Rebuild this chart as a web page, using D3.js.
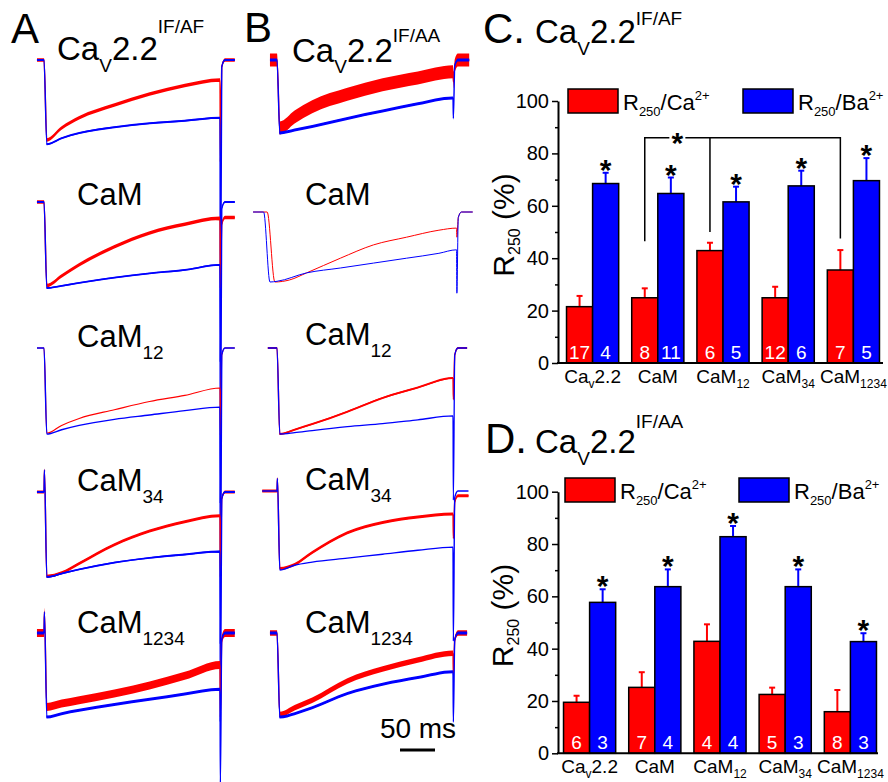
<!DOCTYPE html>
<html>
<head>
<meta charset="utf-8">
<script src="https://cdn.jsdelivr.net/npm/d3@7"></script>
<style>
body { margin: 0; background: #fff; }
svg { display: block; font-family: "Liberation Sans", Arial, sans-serif; }
text { white-space: pre; }
</style>
</head>
<body>
<script>
// ---- bar chart data (C and D) ----
const categories = ["Cav2.2", "CaM", "CaM12", "CaM34", "CaM1234"];
const catLabels = [
    [["Ca", 0], ["v", 1], ["2.2", 0]],
    [["CaM", 0]],
    [["CaM", 0], ["12", 1]],
    [["CaM", 0], ["34", 1]],
    [["CaM", 0], ["1234", 1]]
];
const yTicks = [0, 20, 40, 60, 80, 100];
const yMinor = [10, 30, 50, 70, 90];

const cCa = [21.5, 24.9, 42.9, 24.9, 35.5];
const cCaErr = [4.1, 3.6, 3.0, 4.2, 7.6];
const cBa = [68.5, 64.7, 61.5, 67.6, 69.6];
const cBaErr = [4.1, 6.1, 5.8, 5.8, 8.6];
const cCaN = [17, 8, 6, 12, 7];
const cBaN = [4, 11, 5, 6, 5];
const cBracketCats = ["CaM", "CaM12", "CaM1234"];
const cBracketEnds = [46.5, 50, 47.5];
const cBracketLevel = 86;

const dCa = [19.5, 25.2, 42.8, 22.5, 15.9];
const dCaErr = [2.5, 5.8, 6.5, 2.6, 8.3];
const dBa = [57.7, 63.7, 82.8, 63.7, 42.7];
const dBaErr = [5.0, 6.6, 4.1, 6.6, 3.2];
const dCaN = [6, 7, 4, 5, 8];
const dBaN = [3, 4, 4, 3, 3];

// ---- current traces (A and B), current as fraction of peak, time in ms ----
const traceT = [4, 25, 50, 100, 150, 200, 250];

const aCavRed = [-0.94, -0.80, -0.68, -0.53, -0.40, -0.30, -0.235];
const aCavBlue = [-0.99, -0.92, -0.86, -0.79, -0.745, -0.715, -0.68];
const aCamRed = [-0.97, -0.86, -0.73, -0.52, -0.36, -0.26, -0.19];
const aCamBlue = [-1.0, -0.975, -0.94, -0.88, -0.83, -0.79, -0.73];
const aCam12Red = [-0.98, -0.89, -0.81, -0.71, -0.615, -0.545, -0.46];
const aCam12Blue = [-0.99, -0.94, -0.89, -0.82, -0.77, -0.72, -0.68];
const aCam34Red = [-0.99, -0.95, -0.84, -0.62, -0.46, -0.35, -0.28];
const aCam34Blue = [-1.0, -0.96, -0.91, -0.83, -0.775, -0.735, -0.70];
const aCam1234Red = [-0.88, -0.84, -0.80, -0.72, -0.625, -0.51, -0.38];
const aCam1234Blue = [-1.0, -0.96, -0.92, -0.85, -0.79, -0.725, -0.67];

const bCavRed = [-0.93, -0.78, -0.64, -0.47, -0.34, -0.245, -0.16];
const bCavBlue = [-1.0, -0.96, -0.91, -0.80, -0.70, -0.60, -0.52];
const bCamRedT = [-3, 18, 42, 90, 137, 184, 230, 255];
const bCamRed = [-1.0, -0.97, -0.87, -0.66, -0.47, -0.36, -0.26, -0.23];
const bCamBlueT = [-10, 0, 42, 90, 137, 184, 230, 255];
const bCamBlue = [-1.0, -0.99, -0.87, -0.80, -0.73, -0.66, -0.59, -0.54];
const bCam12Red = [-1.0, -0.95, -0.885, -0.74, -0.58, -0.46, -0.35];
const bCam12Blue = [-1.0, -0.985, -0.96, -0.915, -0.88, -0.835, -0.79];
const bCam34Red = [-0.98, -0.93, -0.78, -0.53, -0.40, -0.33, -0.29];
const bCam34Blue = [-1.0, -0.94, -0.90, -0.85, -0.80, -0.75, -0.71];
const bCam1234Red = [-0.97, -0.89, -0.80, -0.57, -0.43, -0.32, -0.24];
const bCam1234Blue = [-1.0, -0.96, -0.89, -0.72, -0.61, -0.53, -0.46];

// capacitive blip, tail spike depth and post-pulse level per row
const aCap = [0, 0, 0, 0.26, 0.25];
const bCap = [0, 0, 0, 0.16, 0];
const aTailBlue = [-3.55, -3.5, -3.4, -2.7, -1.8];
const aTailRed = [-1.2, -1.0, -1.0, -1.0, -1.0];
const bTailBlue = [-0.8, -1.16, -1.77, -1.9, -1.06];
const bTailRed = [-0.3, -0.36, -0.6, -0.6, -0.5];
const aPostRed = [0, -0.18, 0, 0, 0];
const bPostRed = [0, 0, 0, -0.06, 0];
const aPreT = [-10, -10, -10, -10, -10];
const aPostT = [271, 271, 271, 271, 271];
const bPreT = [-10, -34, -13, -21, -10];
const bPostT = [273, 278, 270, 272, 270];

const RED = "#ff0000", BLUE = "#0000ff";
const W = 888, H = 782;

const svg = d3.select("body").append("svg")
    .attr("width", W).attr("height", H);

// text made of pieces with their own size and baseline shift
function rich(sel, x, y, parts, anchor, fill) {
    const t = sel.append("text")
        .attr("x", x).attr("y", y)
        .attr("text-anchor", anchor || "start")
        .attr("fill", fill || "#000");
    let cur = 0;
    parts.forEach(([s, size, shift]) => {
        t.append("tspan").attr("font-size", size).attr("dy", shift - cur).text(s);
        cur = shift;
    });
    return t;
}

// ---------------- traces ----------------
function buildTrace(times, vals, dropT, preT, cap, tail, post, postT) {
    const pts = [[preT, 0], [dropT, 0]];
    if (cap) pts.push([dropT + 0.6, cap]);
    times.forEach((t, i) => pts.push([t, vals[i]]));
    const tEnd = times[times.length - 1];
    pts.push([tEnd + 0.5, tail], [tEnd + 2.5, post - 0.08], [tEnd + 7, post], [postT, post]);
    return pts;
}

function drawTrace(g, pts, xs, ys, color, w) {
    if (w > 1.6) {
        g.append("path")
            .attr("d", d3.area().curve(d3.curveMonotoneX)
                .x(d => xs(d[0]))
                .y0(d => ys(d[1]) - w / 2)
                .y1(d => ys(d[1]) + w / 2)(pts))
            .attr("fill", color);
    }
    g.append("path")
        .attr("d", d3.line().curve(d3.curveMonotoneX)
            .x(d => xs(d[0])).y(d => ys(d[1]))(pts))
        .attr("fill", "none")
        .attr("stroke", color)
        .attr("stroke-width", Math.min(w, 1.4));
}

const traceCols = [
    {
        x0: 44, base: [60, 202, 348, 492, 633], peak: [145, 288, 435, 577, 717],
        red: [aCavRed, aCamRed, aCam12Red, aCam34Red, aCam1234Red],
        blue: [aCavBlue, aCamBlue, aCam12Blue, aCam34Blue, aCam1234Blue],
        redT: [traceT, traceT, traceT, traceT, traceT],
        blueT: [traceT, traceT, traceT, traceT, traceT],
        drop: [[0, 0], [0, 0], [0, 0], [0, 0], [0, 0]],
        cap: aCap, tailB: aTailBlue, tailR: aTailRed, postR: aPostRed,
        pre: aPreT, post: aPostT,
        wRed: [3.5, 3.5, 1.2, 3, 8], wBlue: [2, 1.8, 1.4, 1.8, 3]
    },
    {
        x0: 277, base: [60, 212, 348, 491, 633], peak: [133, 282, 434, 570, 717],
        red: [bCavRed, bCamRed, bCam12Red, bCam34Red, bCam1234Red],
        blue: [bCavBlue, bCamBlue, bCam12Blue, bCam34Blue, bCam1234Blue],
        redT: [traceT, bCamRedT, traceT, traceT, traceT],
        blueT: [traceT, bCamBlueT, traceT, traceT, traceT],
        drop: [[0, 0], [-14, -19], [0, 0], [0, 0], [0, 0]],
        cap: bCap, tailB: bTailBlue, tailR: bTailRed, postR: bPostRed,
        pre: bPreT, post: bPostT,
        wRed: [13, 1, 2, 3, 5.5], wBlue: [3, 1, 1.3, 1.4, 3]
    }
];

const traceG = svg.append("g").attr("stroke-linejoin", "round");
traceCols.forEach(col => {
    const xs = d3.scaleLinear().domain([0, 250]).range([col.x0, col.x0 + 176]);
    col.base.forEach((b, r) => {
        const ys = d3.scaleLinear().domain([0, -1]).range([b, col.peak[r]]);
        const red = buildTrace(col.redT[r], col.red[r], col.drop[r][0], col.pre[r],
            col.cap[r], col.tailR[r], col.postR[r], col.post[r]);
        const blue = buildTrace(col.blueT[r], col.blue[r], col.drop[r][1], col.pre[r],
            col.cap[r], col.tailB[r], 0, col.post[r]);
        drawTrace(traceG, red, xs, ys, RED, col.wRed[r]);
        drawTrace(traceG, blue, xs, ys, BLUE, col.wBlue[r]);
    });
});

// trace labels
svg.append("text").attr("x", 11).attr("y", 43).attr("font-size", 42).text("A");
svg.append("text").attr("x", 244).attr("y", 42).attr("font-size", 42).text("B");
rich(svg, 57, 60, [["Ca", 33, 0], ["V", 19, 12], ["2.2", 33, 0], ["IF/AF", 19, -27]]);
rich(svg, 292, 62, [["Ca", 33, 0], ["V", 19, 11], ["2.2", 33, 0], ["IF/AA", 19, -20]]);
const rowNames = [null, [["CaM", 31, 0]], [["CaM", 31, 0], ["12", 19, 12]],
    [["CaM", 31, 0], ["34", 19, 12]], [["CaM", 31, 0], ["1234", 19, 12]]];
const labelYA = [0, 205, 347, 491, 633];
const labelYB = [0, 205, 345, 490, 633];
rowNames.forEach((p, i) => {
    if (!p) return;
    rich(svg, 77, labelYA[i], p);
    rich(svg, 305, labelYB[i], p);
});

// scale bar
const scaleBar = d3.scaleLinear().domain([0, 50]).range([400, 435]);
svg.append("line").attr("x1", scaleBar(0)).attr("x2", scaleBar(50))
    .attr("y1", 750).attr("y2", 750).attr("stroke", "#000").attr("stroke-width", 3);
svg.append("text").attr("x", 418).attr("y", 738).attr("text-anchor", "middle")
    .attr("font-size", 28).text("50 ms");

// ---------------- bar panels ----------------
function barPanel(p) {
    const g = svg.append("g");
    const x = d3.scaleBand().domain(categories).range(p.xRange)
        .paddingInner(0.2).paddingOuter(0.1);
    const y = d3.scaleLinear().domain([0, 100]).range(p.yRange);
    const bw = x.bandwidth() / 2;
    const series = [
        { vals: p.ca, errs: p.caErr, ns: p.caN, color: RED, off: 0 },
        { vals: p.ba, errs: p.baErr, ns: p.baN, color: BLUE, off: bw }
    ];
    series.forEach(s => {
        const cx = c => x(c) + s.off + bw / 2;
        const sg = g.append("g");
        sg.selectAll("line.err").data(categories).join("line")
            .attr("x1", cx).attr("x2", cx)
            .attr("y1", (c, i) => y(s.vals[i]))
            .attr("y2", (c, i) => y(s.vals[i] + s.errs[i]))
            .attr("stroke", s.color).attr("stroke-width", 2);
        sg.selectAll("line.cap").data(categories).join("line")
            .attr("x1", c => cx(c) - 3).attr("x2", c => cx(c) + 3)
            .attr("y1", (c, i) => y(s.vals[i] + s.errs[i]))
            .attr("y2", (c, i) => y(s.vals[i] + s.errs[i]))
            .attr("stroke", s.color).attr("stroke-width", 2);
        sg.selectAll("rect").data(categories).join("rect")
            .attr("x", c => x(c) + s.off)
            .attr("y", (c, i) => y(s.vals[i]))
            .attr("width", bw)
            .attr("height", (c, i) => y(0) - y(s.vals[i]))
            .attr("fill", s.color).attr("stroke", "#000").attr("stroke-width", 1.5);
        sg.selectAll("text").data(categories).join("text")
            .attr("x", cx).attr("y", y(0) - 4)
            .attr("text-anchor", "middle").attr("fill", "#fff")
            .attr("font-size", 19)
            .text((c, i) => s.ns[i]);
    });
    // significance stars over the Ba2+ bars
    g.selectAll("text.star").data(categories).join("text")
        .attr("class", "star")
        .attr("x", c => x(c) + bw * 1.5)
        .attr("y", (c, i) => y(p.ba[i] + p.baErr[i]) + 7)
        .attr("text-anchor", "middle").attr("font-size", 30).attr("font-weight", "bold")
        .text("*");

    // axes
    const ax = g.append("g").attr("transform", `translate(${p.axisX},0)`)
        .call(d3.axisLeft(y).tickValues(yTicks).tickSize(6).tickPadding(3).tickSizeOuter(0));
    ax.attr("font-family", null).attr("font-size", 20);
    ax.select(".domain").attr("stroke-width", 2);
    ax.selectAll(".tick line").attr("stroke-width", 1.5);
    ax.selectAll(".tick text").attr("fill", "#000");
    const mi = g.append("g").attr("transform", `translate(${p.axisX},0)`)
        .call(d3.axisLeft(y).tickValues(yMinor).tickSize(3).tickFormat(""));
    mi.select(".domain").remove();
    mi.selectAll(".tick line").attr("stroke-width", 1.5);
    g.append("line").attr("x1", p.axisX - 1).attr("x2", p.xAxisEnd)
        .attr("y1", y(0)).attr("y2", y(0))
        .attr("stroke", "#000").attr("stroke-width", 2);

    categories.forEach((c, i) => {
        const parts = catLabels[i].map(([s, sub]) => sub ? [s, 12, 5] : [s, 19, 0]);
        rich(g, x(c) + x.bandwidth() / 2, y(0) + 20, parts, "middle");
    });

    // y label
    const yl = g.append("g")
        .attr("transform", `translate(${p.yLabelX},${(y(0) + y(100)) / 2 - 7}) rotate(-90)`);
    rich(yl, 0, 0, [["R", 30, 0], ["250", 16, 6], [" (%)", 30, 0]], "middle");

    // legend
    [[RED, "Ca"], [BLUE, "Ba"]].forEach(([col, ion], i) => {
        const lx = p.legendX[i];
        g.append("rect").attr("x", lx).attr("y", p.legendY)
            .attr("width", 50).attr("height", 24)
            .attr("fill", col).attr("stroke", "#000").attr("stroke-width", 1.5);
        rich(g, lx + 55, p.legendY + 21,
            [["R", 22, 0], ["250", 13, 6], ["/" + ion, 22, 0], ["2+", 13, -10]]);
    });

    // title
    const t = g.append("text").attr("x", p.titleX).attr("y", p.titleY);
    t.append("tspan").attr("font-size", 42).text(p.letter + ".");
    t.append("tspan").attr("x", 535).attr("font-size", 33).text("Ca");
    t.append("tspan").attr("font-size", 19).attr("dy", 12).text("V");
    t.append("tspan").attr("font-size", 33).attr("dy", -12).text("2.2");
    t.append("tspan").attr("font-size", 19).attr("dy", p.supShift).text(p.sup);

    return { g, x, y, bw };
}

const pc = barPanel({
    letter: "C", sup: "IF/AF", supShift: -18, titleX: 483, titleY: 43,
    ca: cCa, caErr: cCaErr, ba: cBa, baErr: cBaErr, caN: cCaN, baN: cBaN,
    xRange: [560, 886], yRange: [363, 101], axisX: 558, xAxisEnd: 883,
    yLabelX: 514, legendX: [568, 743], legendY: 89
});

// bracket in C
{
    const { g, x, y, bw } = pc;
    const bx = cBracketCats.map(c => x(c) + bw / 2);
    const yl = y(cBracketLevel);
    g.append("path")
        .attr("d", `M${bx[0]},${y(cBracketEnds[0])}V${yl}H${bx[2]}V${y(cBracketEnds[2])}M${bx[1]},${yl}V${y(cBracketEnds[1])}`)
        .attr("fill", "none").attr("stroke", "#000").attr("stroke-width", 1.5);
    const sx = (bx[0] + bx[1]) / 2;
    g.append("rect").attr("x", sx - 8).attr("y", yl - 6).attr("width", 16).attr("height", 12)
        .attr("fill", "#fff");
    g.append("text").attr("x", sx).attr("y", yl + 15).attr("text-anchor", "middle")
        .attr("font-size", 30).attr("font-weight", "bold").text("*");
}

barPanel({
    letter: "D", sup: "IF/AA", supShift: -25, titleX: 485, titleY: 453,
    ca: dCa, caErr: dCaErr, ba: dBa, baErr: dBaErr, caN: dCaN, baN: dBaN,
    xRange: [557, 883], yRange: [753.3, 491.7], axisX: 558, xAxisEnd: 878,
    yLabelX: 513, legendX: [565, 739], legendY: 478
});
</script>
</body>
</html>
